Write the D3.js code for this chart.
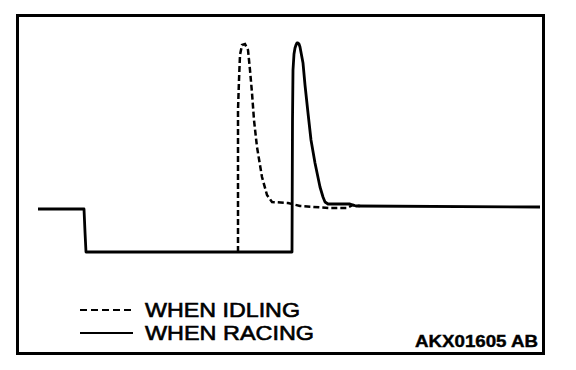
<!DOCTYPE html>
<html>
<head>
<meta charset="utf-8">
<script src="https://cdn.jsdelivr.net/npm/d3@7"></script>
<style>
  body { margin: 0; background: #fff; }
  svg { display: block; }
</style>
</head>
<body>
<div class="chart"></div>
<script>
// time (arbitrary units) and signal level (arbitrary units)
const racingT = [0, 46, 47, 48, 254, 254.5, 255, 256, 257, 258, 259, 260, 261, 262, 265, 267, 270, 273, 277, 282, 285, 287, 290, 312, 318, 502];
const racingV = [43, 43, 20, 0, 0, 132, 182, 198, 204, 207, 209, 209, 208, 205, 189, 167, 139, 112, 89, 65, 55, 50, 48, 48, 46, 45];

const idlingT = [200, 200, 201, 202, 204, 207, 210, 212, 214, 216, 219, 224, 229, 234, 250, 262, 292, 309, 315, 322];
const idlingV = [0, 142, 172, 197, 207, 208, 202, 182, 159, 132, 105, 75, 57, 50, 49, 46, 44, 44, 47, 46];

const seriesNames = ["WHEN IDLING", "WHEN RACING"];
const figureCode = "AKX01605 AB";

const width = 576, height = 370;

const svg = d3.select(".chart")
    .append("svg")
    .attr("width", width)
    .attr("height", height)
    .attr("viewBox", `0 0 ${width} ${height}`);

const xScale = d3.scaleLinear()
    .domain([0, 502])
    .range([38, 540]);

const yScale = d3.scaleLinear()
    .domain([0, 209])
    .range([252, 43]);

// frame
svg.append("rect")
    .attr("x", 17.5)
    .attr("y", 15.5)
    .attr("width", 526)
    .attr("height", 338)
    .attr("fill", "none")
    .attr("stroke", "black")
    .attr("stroke-width", 3);

const line = d3.line()
    .x(d => xScale(d[0]))
    .y(d => yScale(d[1]))
    .curve(d3.curveLinear);

const racing = racingT.map((t, i) => [t, racingV[i]]);
const idling = idlingT.map((t, i) => [t, idlingV[i]]);

svg.append("path")
    .datum(idling)
    .attr("d", line)
    .attr("fill", "none")
    .attr("stroke", "black")
    .attr("stroke-width", 2.5)
    .attr("stroke-dasharray", "6,3");

svg.append("path")
    .datum(racing)
    .attr("d", line)
    .attr("fill", "none")
    .attr("stroke", "black")
    .attr("stroke-width", 2.8)
    .attr("stroke-linejoin", "round");

// legend
const legend = svg.selectAll("g.legend")
    .data(seriesNames)
    .join("g")
        .attr("class", "legend")
        .attr("transform", (d, i) => `translate(0, ${310 + i * 23})`);

legend.append("line")
    .attr("x1", 80)
    .attr("x2", (d, i) => i === 0 ? 135 : 133)
    .attr("y1", 0)
    .attr("y2", 0)
    .attr("stroke", "black")
    .attr("stroke-width", 2.2)
    .attr("stroke-dasharray", (d, i) => i === 0 ? "7,4" : null);

legend.append("text")
    .text(d => d)
    .attr("x", 145)
    .attr("y", 7)
    .attr("font-family", "'Liberation Sans', Arial, sans-serif")
    .attr("font-size", "20px")
    .attr("textLength", (d, i) => i === 0 ? 155 : 169)
    .attr("lengthAdjust", "spacingAndGlyphs")
    .attr("fill", "black")
    .attr("stroke", "black")
    .attr("stroke-width", 0.6);

svg.append("text")
    .text(figureCode)
    .attr("x", 415)
    .attr("y", 347)
    .attr("font-family", "'Liberation Sans', Arial, sans-serif")
    .attr("font-weight", "bold")
    .attr("font-size", "16px")
    .attr("textLength", 123)
    .attr("lengthAdjust", "spacingAndGlyphs")
    .attr("fill", "black")
    .attr("stroke", "black")
    .attr("stroke-width", 0.4);
</script>
</body>
</html>
